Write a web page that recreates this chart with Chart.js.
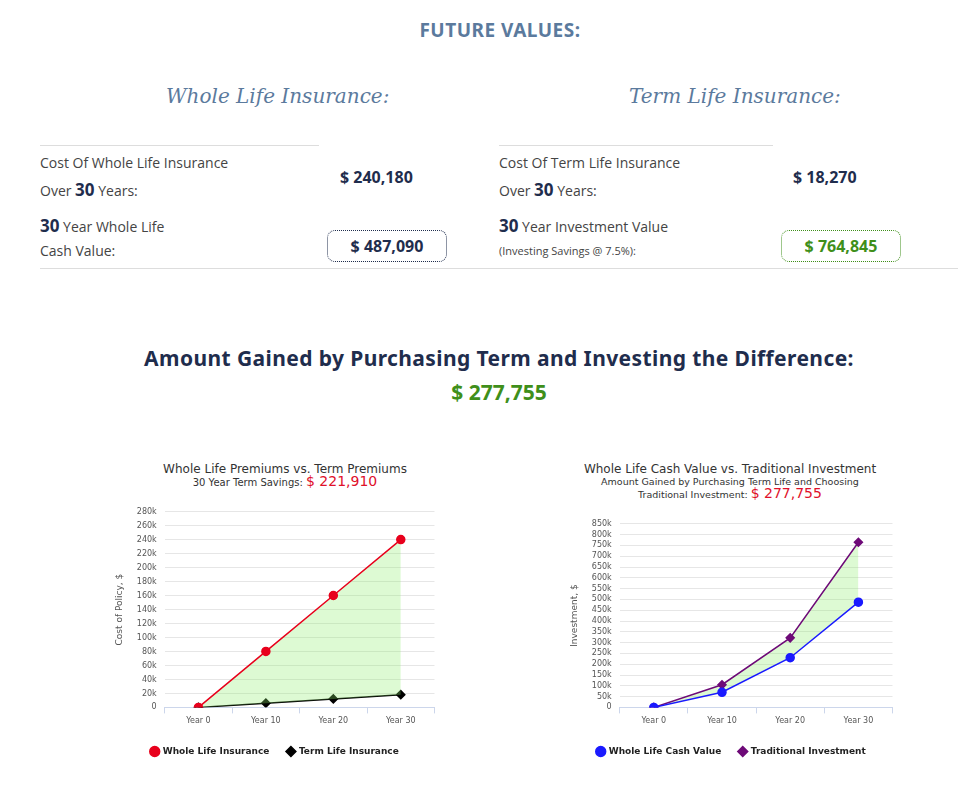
<!DOCTYPE html>
<html><head><meta charset="utf-8">
<script src="https://cdn.jsdelivr.net/npm/chart.js@4"></script>
<style>
body{margin:0;width:970px;height:787px;position:relative;font-family:"Open Sans",sans-serif;color:#1f2d4d;background:#fff;overflow:hidden}
.a{position:absolute;white-space:nowrap}
.h{font-family:"Noto Sans",sans-serif;font-weight:700}
.ser{font-family:"DejaVu Serif",serif;font-style:italic;color:#5b7a9d;font-size:20px}
.lbl{font-size:14px;color:#444}
.lbl b{font-size:17px;color:#1f2d4d}
.line{position:absolute;height:1px;background:#ddd}
.box{position:absolute;border:1px dotted;border-radius:8px;font-weight:700;font-size:16px;text-align:center;line-height:30px}
.ct{position:absolute;text-align:center;font-family:"DejaVu Sans",sans-serif;color:#333;line-height:12px}
</style></head><body>
<div class="a h" style="left:0;width:1000px;text-align:center;top:17px;font-size:19px;color:#5b7a9d;letter-spacing:0.5px">FUTURE VALUES:</div>
<div class="a ser" style="left:166px;top:84px">Whole Life Insurance:</div>
<div class="a ser" style="left:629px;top:84px">Term Life Insurance:</div>
<div class="line" style="left:40px;top:145px;width:279px"></div>
<div class="line" style="left:499px;top:145px;width:274px"></div>
<div class="a lbl" style="left:40px;top:153px">Cost Of Whole Life Insurance</div>
<div class="a lbl" style="left:40px;top:178px">Over <b>30</b> Years:</div>
<div class="a h" style="left:340px;top:166px;font-size:16px">$ 240,180</div>
<div class="a lbl" style="left:40px;top:214px"><b>30</b> Year Whole Life</div>
<div class="a lbl" style="left:40px;top:241px">Cash Value:</div>
<div class="box h" style="left:327px;top:230px;width:118px;border-color:#1f2d4d">$ 487,090</div>
<div class="line" style="left:40px;top:268px;width:459px"></div>
<div class="a lbl" style="left:499px;top:153px">Cost Of Term Life Insurance</div>
<div class="a lbl" style="left:499px;top:178px">Over <b>30</b> Years:</div>
<div class="a h" style="left:793px;top:166px;font-size:16px">$ 18,270</div>
<div class="a lbl" style="left:499px;top:214px"><b>30</b> Year Investment Value</div>
<div class="a lbl" style="left:499px;top:243px;font-size:11px">(Investing Savings @ 7.5%):</div>
<div class="box h" style="left:781px;top:230px;width:118px;border-color:#3f8f1a;color:#3f8f1a">$ 764,845</div>
<div class="line" style="left:499px;top:268px;width:459px"></div>
<div class="a h" style="left:0;width:998px;text-align:center;top:344px;font-size:21px;letter-spacing:0.4px">Amount Gained by Purchasing Term and Investing the Difference:</div>
<div class="a h" style="left:0;width:998px;text-align:center;top:378px;font-size:21px;color:#3f8f1a">$ 277,755</div>

<div class="ct" style="left:100px;width:370px;top:463px;font-size:12px">Whole Life Premiums vs. Term Premiums<br><span style="font-size:10px">30 Year Term Savings: </span><span style="color:#e0102a;font-size:14px">$ 221,910</span></div>
<div class="ct" style="left:560px;width:340px;top:463px;font-size:12px">Whole Life Cash Value vs. Traditional Investment<br><span style="font-size:9.5px;line-height:11px">Amount Gained by Purchasing Term Life and Choosing<br>Traditional Investment: </span><span style="color:#e0102a;font-size:14px">$ 277,755</span></div>
<div style="position:absolute;left:108px;top:499px;width:332px;height:267px"><canvas id="c1"></canvas></div>
<div style="position:absolute;left:563px;top:511px;width:335px;height:255px"><canvas id="c2"></canvas></div>
<script>
const years = ['Year 0', 'Year 10', 'Year 20', 'Year 30'];
const wholeLifeCost = [0, 80090, 160180, 240180];
const termLifeCost = [0, 6090, 12180, 18270];
const wholeLifeCash = [0, 70000, 230000, 487090];
const tradInvest = [0, 105000, 322000, 764845];

const fmtK = v => v === 0 ? '0' : (v / 1000) + 'k';

function makeChart(id, sets, max, step, yTitle, pad) {
  new Chart(document.getElementById(id), {
    type: 'line',
    data: { labels: years, datasets: sets },
    options: {
      responsive: true, maintainAspectRatio: false, animation: false,
      layout: { padding: pad },
      scales: {
        x: {
          offset: true,
          grid: { display: true, drawOnChartArea: false, color: '#ccd6eb', tickLength: 6, offset: true },
          border: { color: '#ccd6eb' },
          ticks: { color: '#555', font: { size: 8, family: 'DejaVu Sans' } },
        },
        y: {
          min: 0, max,
          ticks: { stepSize: step, autoSkip: false, callback: fmtK, color: '#555', font: { size: 8, family: 'DejaVu Sans' }, padding: 8 },
          grid: { color: '#e6e6e6', drawTicks: false }, border: { display: false },
          title: { display: true, text: yTitle, color: '#555', font: { size: 9, family: 'DejaVu Sans' } },
        },
      },
      plugins: {
        legend: {
          position: 'bottom',
          labels: { usePointStyle: true, boxWidth: 7, boxHeight: 7, padding: 18, color: '#222', font: { size: 9, weight: 'bold', family: 'DejaVu Sans' } },
        },
        tooltip: { enabled: false },
      },
    },
  });
}

makeChart('c1', [
  { label: 'Whole Life Insurance', data: wholeLifeCost, borderColor: '#e8001c', backgroundColor: '#e8001c', pointRadius: 4, borderWidth: 1.5, fill: { target: 1, above: 'rgba(144,238,110,0.3)', below: 'rgba(144,238,110,0.3)' } },
  { label: 'Term Life Insurance', data: termLifeCost, borderColor: '#000', backgroundColor: '#000', pointStyle: 'rectRot', pointRadius: 4, borderWidth: 1.5, fill: false },
], 280000, 20000, 'Cost of Policy, $', { left: 2, right: 0, top: 0, bottom: 0 });

makeChart('c2', [
  { label: 'Whole Life Cash Value', data: wholeLifeCash, borderColor: '#1a1aff', backgroundColor: '#1a1aff', pointRadius: 4, borderWidth: 1.5, fill: false },
  { label: 'Traditional Investment', data: tradInvest, borderColor: '#6e0a78', backgroundColor: '#6e0a78', pointStyle: 'rectRot', pointRadius: 4, borderWidth: 1.5, fill: { target: 0, above: 'rgba(144,238,110,0.3)', below: 'rgba(144,238,110,0.3)' } },
], 850000, 50000, 'Investment, $', { left: 2, right: 0, top: 0, bottom: 0 });
</script>
</body></html>
